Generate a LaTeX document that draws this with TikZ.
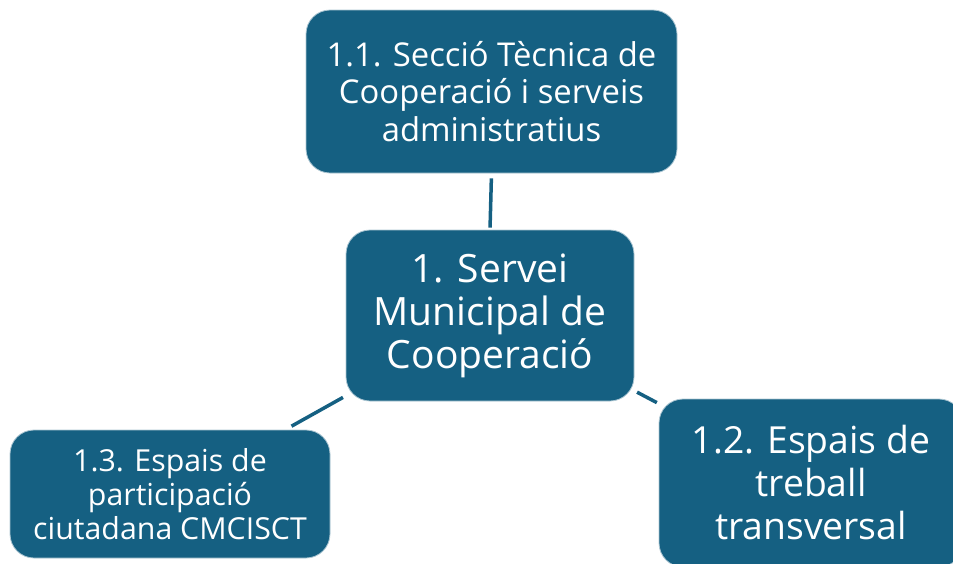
\documentclass[tikz,border=0pt]{standalone}
\usepackage{fontspec}
\setmainfont{Open Sans}
\definecolor{acc}{HTML}{156082}
\begin{document}
\begin{tikzpicture}[x=1pt,y=-1pt,
  box/.style={rectangle, rounded corners=24pt, fill=acc, draw=acc!35!white, line width=0.8pt,
    text=white, align=center, inner sep=0pt},
  link/.style={draw=acc, line width=3.5pt}]
\useasboundingbox (0,0) rectangle (953,563);
\clip (0,0) rectangle (953,563);
\node[box, minimum width=371pt, minimum height=163pt, font=\fontsize{32.8}{37.5}\selectfont]
  (top) at (491.5,91.5) {1.1. Secció Tècnica de\\Cooperació i serveis\\administratius};
\node[box, minimum width=288pt, minimum height=171pt, font=\fontsize{39}{43}\selectfont]
  (c) at (490,315.5) {1. Servei\\Municipal de\\Cooperació};
\node[box, minimum width=320pt, minimum height=128pt, font=\fontsize{30.3}{34}\selectfont]
  (bl) at (170,494) {1.3. Espais de\\participació\\ciutadana CMCISCT};
\node[box, minimum width=304pt, minimum height=168pt, font=\fontsize{37.3}{43}\selectfont]
  (br) at (811,483) {1.2. Espais de\\treball\\transversal};
\draw[link, shorten <=2pt, shorten >=5pt] (c.north) -- (top.south);
\draw[link, shorten <=3pt, shorten >=7pt] (c) -- (bl);
\draw[link, shorten <=3pt, shorten >=2pt] (c) -- (br);
\end{tikzpicture}
\end{document}
